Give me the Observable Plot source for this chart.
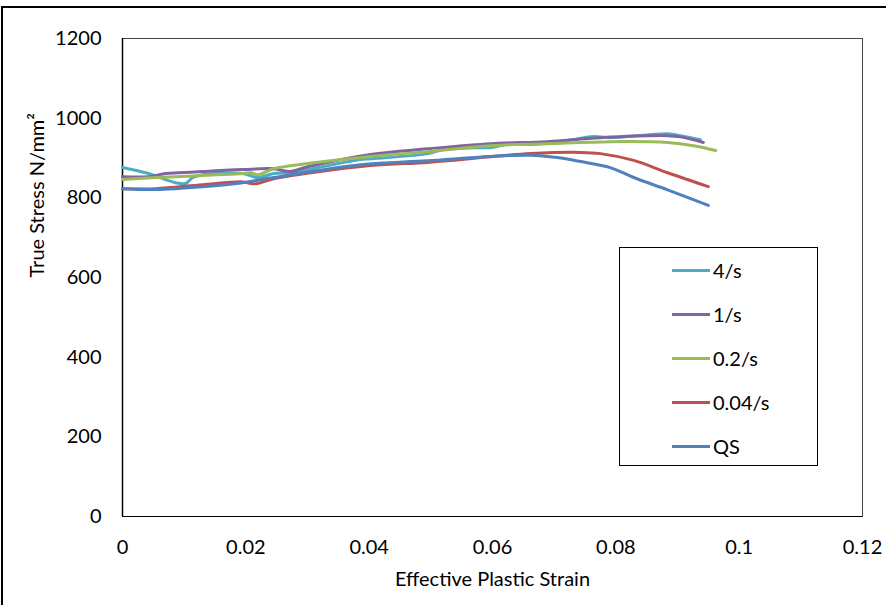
<!DOCTYPE html>
<html>
<head>
<meta charset="utf-8">
<script src="https://cdn.jsdelivr.net/npm/d3@7"></script>
<script src="https://cdn.jsdelivr.net/npm/@observablehq/plot@0.6"></script>
<style>
  html, body { margin: 0; padding: 0; background: #fff; }
  #wrap { position: relative; width: 886px; height: 605px; overflow: hidden; font-family: Lato, "Open Sans", sans-serif; }
  #border { position: absolute; left: 1px; top: 6px; right: -4px; bottom: -4px; border-top: 2px solid #000; border-left: 2px solid #000; pointer-events: none; }
  #legend { position: absolute; left: 619px; top: 247px; width: 199px; height: 219px; border: 1px solid #000; background: #fff; box-sizing: border-box; }
  .li { position: absolute; left: 52px; height: 22px; display: flex; align-items: center; font-size: 20px; color: #000; }
  .li span.sw { display: inline-block; width: 38px; height: 3px; margin-right: 3px; }
</style>
</head>
<body>
<div id="wrap">
  <div id="chart"></div>
  <div id="legend"></div>
  <div id="border"></div>
</div>
<script>
// Series names and colours
const seriesNames = ["4/s", "1/s", "0.2/s", "0.04/s", "QS"];
const seriesColors = ["#4BACC6", "#8064A2", "#9BBB59", "#C0504D", "#4F81BD"];

// 4/s
const strain4 = [0, 0.0042, 0.0086, 0.0102, 0.0114, 0.013, 0.0195, 0.0219, 0.0245, 0.0272, 0.030, 0.0386, 0.0402, 0.0495, 0.052, 0.058, 0.0597, 0.0630, 0.0662, 0.0729, 0.0764, 0.0791, 0.0884, 0.0905, 0.0937];
const stress4 = [876, 861, 838, 836, 851, 858, 861, 851, 861, 863, 871, 896, 898, 911, 921, 926, 926, 936, 934, 946, 954, 951, 961, 956, 946];
// 1/s
const strain1 = [0, 0.0042, 0.0070, 0.0091, 0.013, 0.0151, 0.0195, 0.0245, 0.0272, 0.030, 0.0402, 0.0495, 0.0597, 0.0689, 0.0775, 0.0884, 0.0905, 0.0942];
const stress1 = [853, 853, 861, 863, 866, 868, 871, 873, 866, 878, 909, 923, 936, 941, 951, 956, 953, 939];
// 0.2/s
const strain02 = [0, 0.0054, 0.013, 0.0195, 0.0208, 0.0219, 0.0245, 0.030, 0.0402, 0.0495, 0.0597, 0.0689, 0.0791, 0.0884, 0.0926, 0.0962];
const stress02 = [846, 851, 856, 861, 863, 858, 873, 886, 904, 916, 931, 936, 941, 939, 931, 919];
// 0.04/s
const strain004 = [0, 0.0054, 0.013, 0.0195, 0.0208, 0.0219, 0.0245, 0.0402, 0.0495, 0.0597, 0.0662, 0.0743, 0.0775, 0.0829, 0.0884, 0.095];
const stress004 = [823, 823, 833, 840, 836, 836, 848, 881, 889, 903, 911, 914, 911, 894, 863, 828];
// QS
const strainQS = [0, 0.0054, 0.013, 0.0195, 0.0245, 0.0386, 0.0494, 0.0597, 0.0662, 0.0705, 0.0743, 0.0791, 0.0829, 0.0884, 0.095];
const stressQS = [823, 821, 828, 838, 851, 883, 893, 904, 907, 901, 891, 876, 851, 820, 781];

const xTicks = [0, 0.02, 0.04, 0.06, 0.08, 0.1, 0.12];
const yTicks = [0, 200, 400, 600, 800, 1000, 1200];

const allStrain = [strain4, strain1, strain02, strain004, strainQS];
const allStress = [stress4, stress1, stress02, stress004, stressQS];
const rows = [];
allStrain.forEach((xs, i) => xs.forEach((x, j) => rows.push({series: seriesNames[i], strain: x, stress: allStress[i][j]})));

const chart = Plot.plot({
  width: 886,
  height: 605,
  marginLeft: 122,
  marginRight: 24,
  marginTop: 38,
  marginBottom: 89,
  style: {fontFamily: "Lato, 'Open Sans', sans-serif", fontSize: "20px", color: "#000", background: "#fff"},
  x: {domain: [0, 0.12], ticks: xTicks, tickFormat: d => String(+d.toFixed(2)), tickSize: 0, tickPadding: 23, label: null},
  y: {domain: [0, 1200], ticks: yTicks, tickFormat: d => String(d), tickSize: 0, tickPadding: 21, label: null},
  color: {domain: seriesNames, range: seriesColors},
  marks: [
    Plot.frame({stroke: "#444", strokeWidth: 1}),
    Plot.ruleX([0], {stroke: "#000", strokeWidth: 1.5}),
    Plot.ruleY([0], {stroke: "#000", strokeWidth: 1}),
    Plot.line(rows, {x: "strain", y: "stress", z: "series", stroke: "series", strokeWidth: 3, curve: "catmull-rom"}),
    Plot.text(["Effective Plastic Strain"], {frameAnchor: "bottom", dy: 69, text: d => d, fontSize: 20}),
    Plot.text(["True Stress N/mm²"], {frameAnchor: "left", dx: -85, rotate: -90, text: d => d, fontSize: 20})
  ]
});
document.getElementById("chart").appendChild(chart);

// legend
const leg = document.getElementById("legend");
seriesNames.forEach((name, i) => {
  const d = document.createElement("div");
  d.className = "li";
  d.style.top = (11 + i * 44) + "px";
  d.innerHTML = `<span class="sw" style="background:${seriesColors[i]}"></span>${name}`;
  leg.appendChild(d);
});
</script>
</body>
</html>
